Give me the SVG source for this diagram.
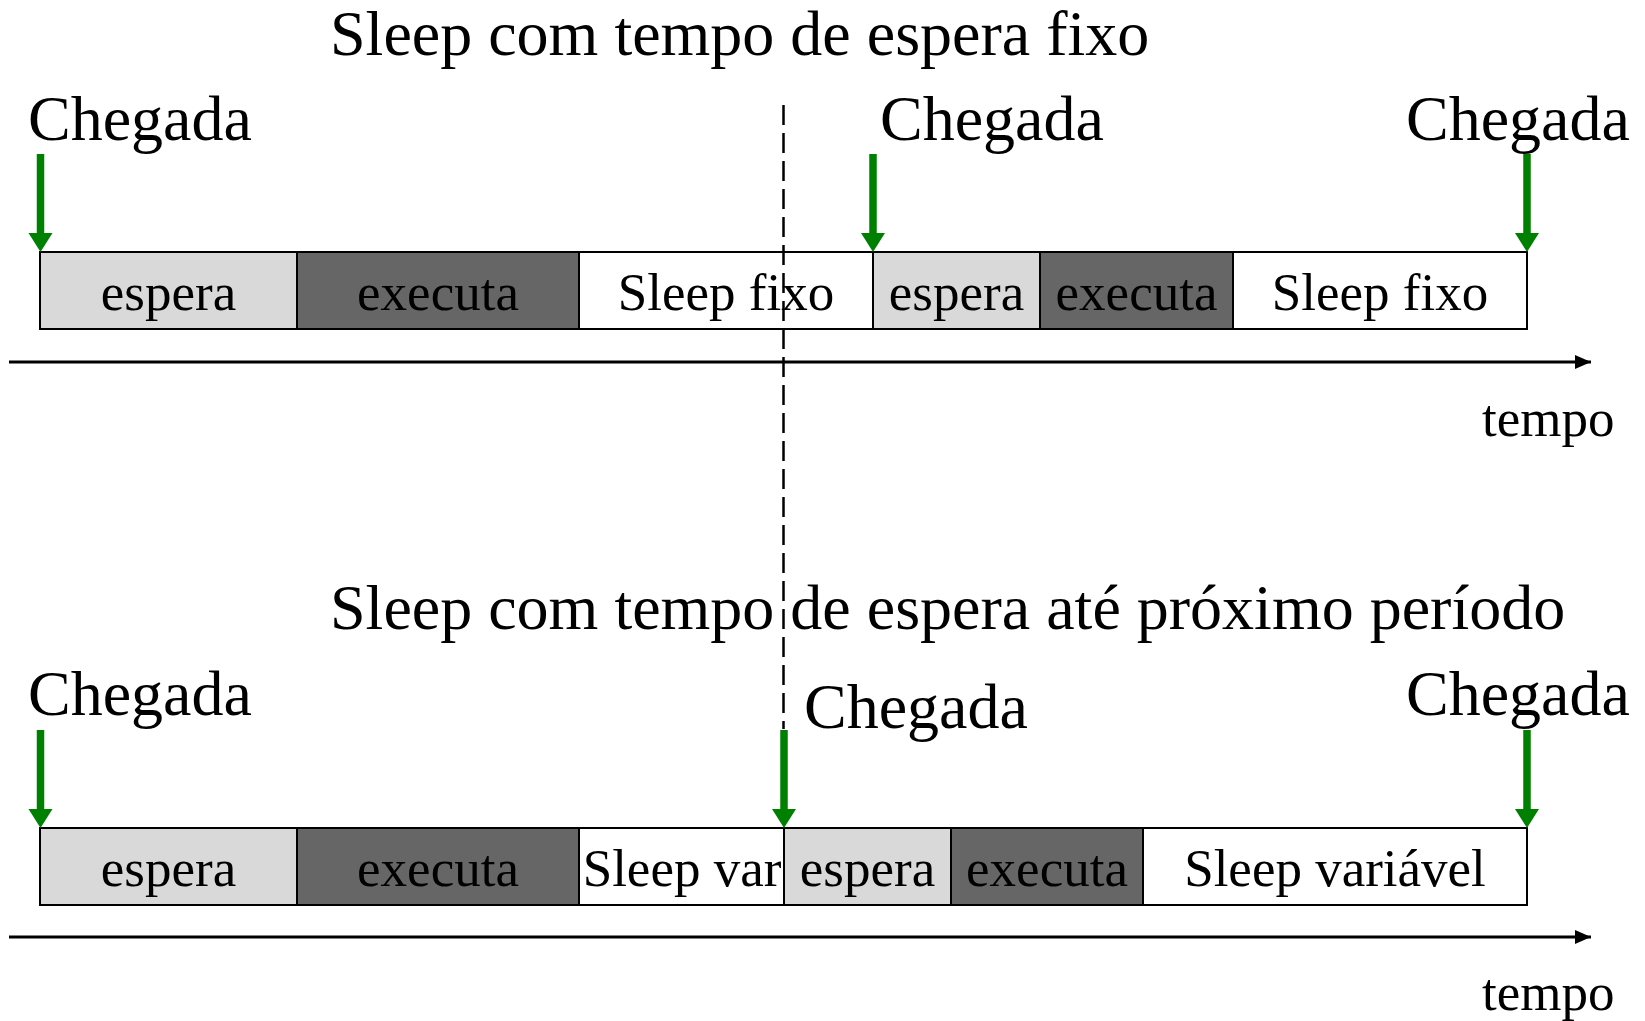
<svg xmlns="http://www.w3.org/2000/svg" width="1645" height="1021" viewBox="0 0 1645 1021">
<style>
text{font-family:"Liberation Serif","Times New Roman",serif;fill:#000}
.big{font-size:64px}
.lbl{font-size:53px;text-anchor:middle}
.t{font-size:53px}
.box{stroke:#000;stroke-width:2}
.esp{fill:#d9d9d9}
.exe{fill:#666666}
.slp{fill:#ffffff}
.axis{stroke:#000;stroke-width:3;fill:none}
.arr{stroke:#008000;stroke-width:7.5;fill:none}
.head{fill:#008000}
.dash{stroke:#000;stroke-width:2.5;stroke-dasharray:20 8;fill:none}
</style>
<defs>
<marker id="ax" viewBox="0 0 16 14" refX="16" refY="7" markerWidth="16" markerHeight="14" markerUnits="userSpaceOnUse" orient="auto">
<path d="M0,0 L16,7 L0,14 z" fill="#000"/>
</marker>
<path id="gh" d="M-12,-19 L12,-19 L0,0 z"/>
</defs>
<rect width="1645" height="1021" fill="#fff"/>

<text class="big" x="330" y="55">Sleep com tempo de espera fixo</text>
<text class="big" x="330" y="629">Sleep com tempo de espera até próximo período</text>

<g id="row1">
<g id="r1-espera1"><rect class="box esp" x="40" y="252" width="257" height="77"/><text class="lbl" x="168.5" y="310">espera</text></g>
<g id="r1-executa1"><rect class="box exe" x="297" y="252" width="282" height="77"/><text class="lbl" x="438" y="310">executa</text></g>
<g id="r1-sleep1"><rect class="box slp" x="579" y="252" width="294" height="77"/><text class="lbl" x="726" y="310">Sleep fixo</text></g>
<g id="r1-espera2"><rect class="box esp" x="873" y="252" width="167" height="77"/><text class="lbl" x="956.5" y="310">espera</text></g>
<g id="r1-executa2"><rect class="box exe" x="1040" y="252" width="193" height="77"/><text class="lbl" x="1136.5" y="310">executa</text></g>
<g id="r1-sleep2"><rect class="box slp" x="1233" y="252" width="294" height="77"/><text class="lbl" x="1380" y="310">Sleep fixo</text></g>
</g>

<g id="row2">
<g id="r2-espera1"><rect class="box esp" x="40" y="828" width="257" height="77"/><text class="lbl" x="168.5" y="886">espera</text></g>
<g id="r2-executa1"><rect class="box exe" x="297" y="828" width="282" height="77"/><text class="lbl" x="438" y="886">executa</text></g>
<g id="r2-sleep1"><rect class="box slp" x="579" y="828" width="205" height="77"/><text class="lbl" x="682" y="886">Sleep var</text></g>
<g id="r2-espera2"><rect class="box esp" x="784" y="828" width="167" height="77"/><text class="lbl" x="867.5" y="886">espera</text></g>
<g id="r2-executa2"><rect class="box exe" x="951" y="828" width="192" height="77"/><text class="lbl" x="1047" y="886">executa</text></g>
<g id="r2-sleep2"><rect class="box slp" x="1143" y="828" width="384" height="77"/><text class="lbl" x="1335" y="886">Sleep variável</text></g>
</g>

<g id="labels">
<text class="big" x="28" y="140">Chegada</text>
<text class="big" x="880" y="140">Chegada</text>
<text class="big" x="1406" y="140">Chegada</text>
<text class="big" x="28" y="715">Chegada</text>
<text class="big" x="804" y="728">Chegada</text>
<text class="big" x="1406" y="715">Chegada</text>
<text class="t" x="1482" y="436">tempo</text>
<text class="t" x="1482" y="1010">tempo</text>
</g>

<g id="connectors">
<line class="axis" x1="9" y1="362" x2="1591" y2="362" marker-end="url(#ax)"/>
<line class="axis" x1="9" y1="937" x2="1591" y2="937" marker-end="url(#ax)"/>
<line class="dash" x1="783.5" y1="105" x2="783.5" y2="729"/>
<g id="arrival-arrows">
<line class="arr" x1="40.5" y1="154" x2="40.5" y2="236"/><use href="#gh" class="head" x="40.5" y="252"/>
<line class="arr" x1="873" y1="154" x2="873" y2="236"/><use href="#gh" class="head" x="873" y="252"/>
<line class="arr" x1="1527" y1="154" x2="1527" y2="236"/><use href="#gh" class="head" x="1527" y="252"/>
<line class="arr" x1="40.5" y1="730" x2="40.5" y2="812"/><use href="#gh" class="head" x="40.5" y="828"/>
<line class="arr" x1="784" y1="730" x2="784" y2="812"/><use href="#gh" class="head" x="784" y="828"/>
<line class="arr" x1="1527" y1="730" x2="1527" y2="812"/><use href="#gh" class="head" x="1527" y="828"/>
</g>
</g>
</svg>
